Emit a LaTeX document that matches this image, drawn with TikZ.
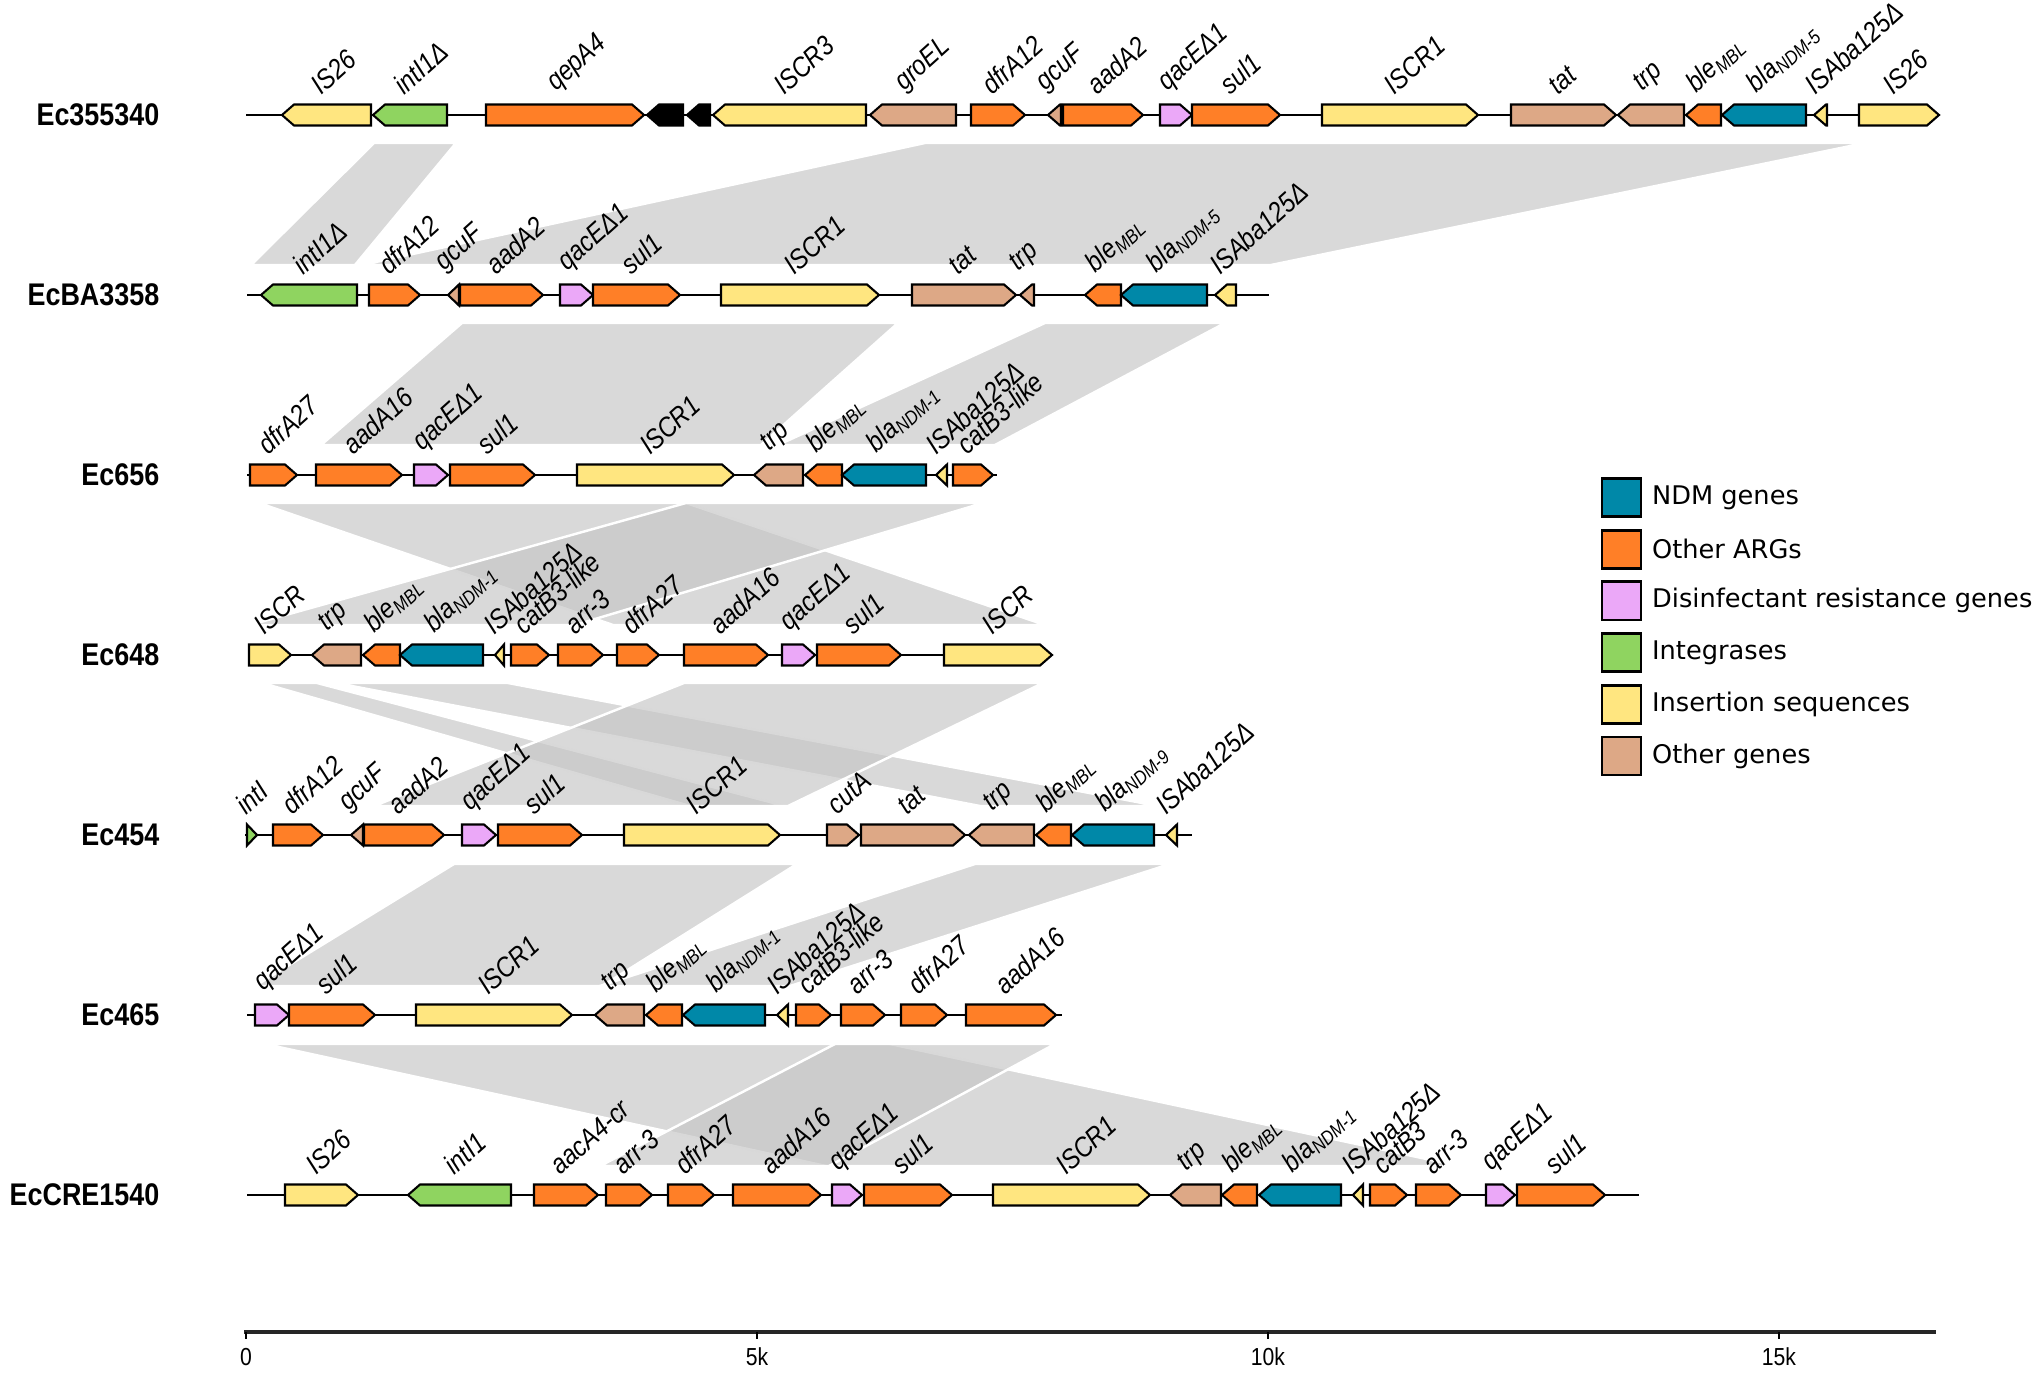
\documentclass[tikz,border=0pt]{standalone}
\usepackage{fontspec}
\setmainfont{Liberation Sans}
\newfontfamily\legfont{DejaVu Sans}
\newfontfamily\narrowfont[FakeStretch=0.86]{Liberation Sans}
\usetikzlibrary{positioning}

\definecolor{ndm}{HTML}{0088A8}
\definecolor{arg}{HTML}{FF7F27}
\definecolor{dis}{HTML}{EBA8F8}
\definecolor{intg}{HTML}{8FD460}
\definecolor{ins}{HTML}{FFE680}
\definecolor{oth}{HTML}{DDA886}
\definecolor{bandgray}{HTML}{C5C5C5}

\newcommand{\gsub}[1]{\textsubscript{#1}}
% gene arrow: row y, start, end, r/l, colour, label
\newcommand{\gene}[6]{%
  \pgfmathsetmacro{\hl}{min(12,#3-#2)}%
  \if r#4
    \draw[genebox, fill=#5] (#2,#1-10.5) -- (#3-\hl,#1-10.5) -- (#3,#1) -- (#3-\hl,#1+10.5) -- (#2,#1+10.5) -- cycle;
  \else
    \draw[genebox, fill=#5] (#3,#1-10.5) -- (#2+\hl,#1-10.5) -- (#2,#1) -- (#2+\hl,#1+10.5) -- (#3,#1+10.5) -- cycle;
  \fi
  \node[genelab] at ({(#2+#3)/2-5},#1-18) {#6};}
% similarity band: top y, bottom y, top from/to, bottom from/to
\newcommand{\simband}[6]{%
  \filldraw[simband] (#3,#1) -- (#4,#1) -- (#6,#2) -- (#5,#2) -- cycle;}

\begin{document}
\begin{tikzpicture}[x=0.01cm, y=-0.01cm,
    genebox/.style={draw=black, line width=0.6pt},
    genelab/.style={rotate=42, anchor=south west, inner sep=0pt, font=\narrowfont\itshape\fontsize{7.9}{9}\selectfont},
    genome/.style={anchor=east, inner sep=0pt, font=\narrowfont\bfseries\fontsize{8.9}{9}\selectfont},
    backbone/.style={line width=0.8pt},
    simband/.style={fill=bandgray, fill opacity=0.66, draw=white, line width=0.7pt},
    legbox/.style={draw, line width=0.8pt, minimum width=0.39cm, minimum height=0.38cm, inner sep=0pt},
    legtext/.style={inner sep=0pt, font=\legfont\fontsize{7.3}{8}\selectfont},
    ticklab/.style={inner sep=0pt, font=\narrowfont\fontsize{7}{7}\selectfont}]
  \useasboundingbox (0,0) rectangle (2044,1373);

  % similarity bands
  \simband{143}{265}{374}{456}{251}{355}
  \simband{143}{265}{925}{1865}{362}{1271}
  \simband{323}{445}{462}{898}{321}{761}
  \simband{323}{445}{1045}{1225}{778}{995}
  \simband{503}{625}{259}{686}{613}{1045}
  \simband{503}{625}{686}{983}{250}{575}
  \simband{683}{806}{262}{317}{690}{785}
  \simband{683}{806}{336}{508}{980}{1158}
  \simband{683}{806}{684}{1043}{374}{788}
  \simband{864}{986}{454}{797}{255}{602}
  \simband{864}{986}{975}{1170}{600}{790}
  \simband{1044}{1166}{265}{890}{826}{1459}
  \simband{1044}{1166}{835}{1055}{600}{829}

  % genomes
  \node[genome] (ec355340) at (160,115) {Ec355340};
  \node[genome] (ecba3358) at (160,295) {EcBA3358};
  \node[genome] (ec656) at (160,475) {Ec656};
  \node[genome] (ec648) at (160,655) {Ec648};
  \node[genome] (ec454) at (160,835) {Ec454};
  \node[genome] (ec465) at (160,1015) {Ec465};
  \node[genome] (eccre1540) at (160,1195) {EcCRE1540};

  \draw[backbone] (246,115) -- (1939,115);
  \draw[backbone] (247,295) -- (1269,295);
  \draw[backbone] (247,475) -- (997,475);
  \draw[backbone] (248,655) -- (1052,655);
  \draw[backbone] (245,835) -- (1192,835);
  \draw[backbone] (247,1015) -- (1062,1015);
  \draw[backbone] (247,1195) -- (1639,1195);

  % Ec355340
  \foreach \xa/\xb/\dir/\col/\lab in {282/371/l/ins/IS26, 373/447/l/intg/intI1Δ,
      486/644/r/arg/qepA4, 647/683/l/black/{}, 687/710/l/black/{},
      713/866/l/ins/ISCR3, 870/956/l/oth/groEL, 971/1025/r/arg/dfrA12,
      1048/1061/l/oth/gcuF, 1063/1143/r/arg/aadA2, 1160/1192/r/dis/qacEΔ1,
      1192/1280/r/arg/sul1, 1322/1478/r/ins/ISCR1, 1511/1616/r/oth/tat,
      1618/1684/l/oth/trp, 1686/1721/l/arg/{ble\gsub{MBL}},
      1722/1806/l/ndm/{bla\gsub{NDM-5}}, 1814/1827/l/ins/ISAba125Δ,
      1859/1939/r/ins/IS26}
    \gene{115}{\xa}{\xb}{\dir}{\col}{\lab};

  % EcBA3358
  \foreach \xa/\xb/\dir/\col/\lab in {261/357/l/intg/intI1Δ, 369/420/r/arg/dfrA12,
      448/459/l/oth/gcuF, 460/543/r/arg/aadA2, 560/593/r/dis/qacEΔ1,
      593/680/r/arg/sul1, 721/879/r/ins/ISCR1, 912/1016/r/oth/tat,
      1020/1034/l/oth/trp, 1085/1121/l/arg/{ble\gsub{MBL}},
      1121/1207/l/ndm/{bla\gsub{NDM-5}}, 1215/1236/l/ins/ISAba125Δ}
    \gene{295}{\xa}{\xb}{\dir}{\col}{\lab};

  % Ec656
  \foreach \xa/\xb/\dir/\col/\lab in {250/297/r/arg/dfrA27, 316/402/r/arg/aadA16,
      414/448/r/dis/qacEΔ1, 450/535/r/arg/sul1, 577/734/r/ins/ISCR1,
      754/803/l/oth/trp, 805/842/l/arg/{ble\gsub{MBL}},
      842/926/l/ndm/{bla\gsub{NDM-1}}, 936/947/l/ins/ISAba125Δ,
      953/993/r/arg/catB3-like}
    \gene{475}{\xa}{\xb}{\dir}{\col}{\lab};

  % Ec648
  \foreach \xa/\xb/\dir/\col/\lab in {249/291/r/ins/ISCR, 312/361/l/oth/trp,
      363/400/l/arg/{ble\gsub{MBL}}, 400/483/l/ndm/{bla\gsub{NDM-1}},
      495/504/l/ins/ISAba125Δ, 511/549/r/arg/catB3-like, 558/603/r/arg/arr-3,
      617/659/r/arg/dfrA27, 684/768/r/arg/aadA16, 782/815/r/dis/qacEΔ1,
      817/901/r/arg/sul1, 944/1052/r/ins/ISCR}
    \gene{655}{\xa}{\xb}{\dir}{\col}{\lab};

  % Ec454
  \foreach \xa/\xb/\dir/\col/\lab in {247/257/r/intg/intI, 273/323/r/arg/dfrA12,
      351/363/l/oth/gcuF, 364/444/r/arg/aadA2, 462/496/r/dis/qacEΔ1,
      498/582/r/arg/sul1, 624/780/r/ins/ISCR1, 827/859/r/oth/cutA,
      861/965/r/oth/tat, 969/1034/l/oth/trp, 1036/1071/l/arg/{ble\gsub{MBL}},
      1072/1154/l/ndm/{bla\gsub{NDM-9}}, 1166/1177/l/ins/ISAba125Δ}
    \gene{835}{\xa}{\xb}{\dir}{\col}{\lab};

  % Ec465
  \foreach \xa/\xb/\dir/\col/\lab in {255/289/r/dis/qacEΔ1, 289/375/r/arg/sul1,
      416/572/r/ins/ISCR1, 595/644/l/oth/trp, 646/682/l/arg/{ble\gsub{MBL}},
      683/765/l/ndm/{bla\gsub{NDM-1}}, 777/788/l/ins/ISAba125Δ,
      796/831/r/arg/catB3-like, 841/885/r/arg/arr-3, 901/947/r/arg/dfrA27,
      966/1056/r/arg/aadA16}
    \gene{1015}{\xa}{\xb}{\dir}{\col}{\lab};

  % EcCRE1540
  \foreach \xa/\xb/\dir/\col/\lab in {285/358/r/ins/IS26, 408/511/l/intg/intI1,
      534/598/r/arg/aacA4-cr, 606/652/r/arg/arr-3, 668/714/r/arg/dfrA27,
      733/821/r/arg/aadA16, 832/862/r/dis/qacEΔ1, 864/952/r/arg/sul1,
      993/1150/r/ins/ISCR1, 1170/1221/l/oth/trp, 1222/1257/l/arg/{ble\gsub{MBL}},
      1259/1341/l/ndm/{bla\gsub{NDM-1}}, 1353/1363/l/ins/ISAba125Δ,
      1370/1407/r/arg/catB3, 1416/1461/r/arg/arr-3, 1486/1515/r/dis/qacEΔ1,
      1517/1605/r/arg/sul1}
    \gene{1195}{\xa}{\xb}{\dir}{\col}{\lab};

  % legend
  \foreach \col/\txt [count=\i] in {ndm/NDM genes, arg/Other ARGs,
      dis/Disinfectant resistance genes, intg/Integrases,
      ins/Insertion sequences, oth/Other genes} {
    \node[legbox, fill=\col] (box\i) at (1621.5,{497.5+51.7*(\i-1)}) {};
    \node[legtext, right=0.09cm of box\i] (leg\i) {\txt};
  }

  % scale
  \draw[line width=1.1pt, black!85] (244,1332) -- (1936,1332);
  \foreach \k/\lab [count=\i] in {0/0, 1/5k, 2/10k, 3/15k} {
    \draw[line width=0.5pt] (246+511*\k,1332) -- (246+511*\k,1339);
    \node[ticklab] (tick\i) at (246+511*\k,1357) {\lab};
  }
\end{tikzpicture}
\end{document}
